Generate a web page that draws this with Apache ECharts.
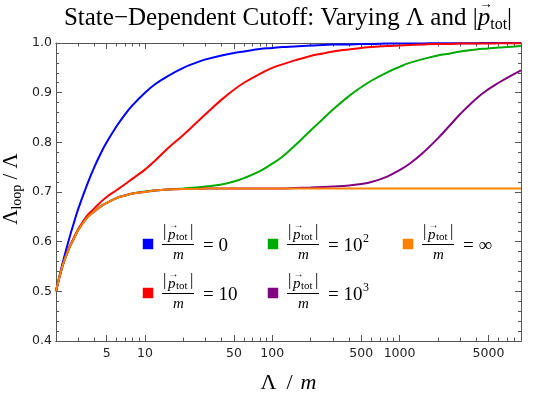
<!DOCTYPE html>
<html><head><meta charset="utf-8">
<script src="https://cdn.jsdelivr.net/npm/echarts@6/dist/echarts.min.js"></script>
<style>html,body{margin:0;padding:0;background:#fff}#c{width:540px;height:397px}</style>
</head><body><div id="c"></div>
<script>
// ---- data ----
const xs = [2,2.25,2.5,2.75,3,3.5,4,4.5,5,6,7,8,10,12,15,20,25,30,40,50,60,80,100,120,150,200,250,300,400,500,600,800,1000,1200,1500,2000,2500,3000,4000,5000,6000,7000,9000];
const yP0 = [0.500,0.556,0.600,0.636,0.667, 0.714,0.750,0.778,0.800, 0.833,0.857,0.875, 0.900,0.917,0.933, 0.950,0.960,0.967, 0.975,0.980,0.983, 0.988,0.990,0.992, 0.993,0.995,0.996, 0.997,0.997,0.998, 0.998,0.999,0.999, 0.999,0.999,0.9995, 0.9996,0.9997,0.9997, 0.9998,0.9998,0.9999, 0.9999];
const yP10 = [0.500,0.551,0.584,0.607,0.626, 0.652,0.667,0.680,0.690, 0.704,0.716,0.727, 0.745,0.763,0.787, 0.815,0.838,0.857, 0.886,0.906,0.920, 0.938,0.950,0.957, 0.965,0.974,0.979, 0.983,0.987,0.990, 0.992,0.994,0.995, 0.996,0.997,0.998, 0.998,0.999,0.999, 0.999,0.9993,0.9995, 0.9996];
const yP100 = [0.500,0.551,0.583,0.605,0.624, 0.648,0.661,0.671,0.678, 0.688,0.693,0.697, 0.701,0.703,0.705, 0.707,0.709,0.711, 0.715,0.721,0.728, 0.742,0.757,0.771, 0.793,0.824,0.847, 0.866,0.893,0.911, 0.924,0.941,0.952, 0.960,0.967,0.975, 0.979,0.983,0.987, 0.989,0.991,0.992, 0.994];
const yP1000 = [0.500,0.551,0.583,0.605,0.624, 0.648,0.661,0.671,0.678, 0.688,0.693,0.697, 0.700,0.703,0.705, 0.706,0.706,0.707, 0.707,0.707,0.707, 0.707,0.707,0.707, 0.708,0.709,0.710, 0.711,0.713,0.716, 0.720,0.731,0.744, 0.757,0.777,0.808, 0.835,0.857,0.888, 0.907,0.920,0.930, 0.945];
const yPinf = [0.500,0.551,0.583,0.605,0.624, 0.648,0.661,0.671,0.678, 0.688,0.693,0.697, 0.700,0.703,0.705, 0.706,0.706,0.707, 0.707,0.707,0.707, 0.707,0.707,0.707, 0.707,0.707,0.707, 0.707,0.707,0.707, 0.707,0.707,0.707, 0.707,0.707,0.707, 0.707,0.707,0.707, 0.707,0.707,0.707, 0.707];
const seriesNames = ['p = 0','p = 10','p = 10^2','p = 10^3','p = ∞'];
const legendBase = ['0','10','10','10','\u221E'];
const legendSup = ['','','2','3',''];
const colors = ['#0000ff','#ff0000','#00aa00','#800080','#ff8000'];
const xLabelVals = [5,10,50,100,500,1000,5000];
const xMinorVals = [2,3,4,6,7,8,9,20,30,40,60,70,80,90,200,300,400,600,700,800,900,2000,3000,4000,6000,7000,8000];
const titleMain = 'State\u2212Dependent Cutoff: Varying \u039B and ';
const yTitle = ['\u039B','loop',' / \u039B'];
const xTitle = ['\u039B','/','m'];

// ---- layout helpers ----
const ys = [yP0, yP10, yP100, yP1000, yPinf];
const frame = '#555';
const SERIF = '"Liberation Serif", "Times New Roman", serif';
const mctx = document.createElement('canvas').getContext('2d');
function tw(t, size, italic){ mctx.font = (italic?'italic ':'') + size + 'px ' + SERIF; return mctx.measureText(t).width; }
function txt(x, y, t, size, opt){
  opt = opt || {};
  return {type:'text', x:x, y:y, silent:true, z:100, style:{text:t, fill:opt.color||'#000',
    font:(opt.italic?'italic ':'') + size + 'px ' + SERIF, align:opt.align||'left', verticalAlign:'middle'}};
}

const chart = echarts.init(document.getElementById('c'), null, {renderer:'canvas'});

function xAxisDef(position, tickVals, len, showLabels){
  return {type:'log', logBase:10, min:2, max:9000, position:position,
    axisLine:{show:true, onZero:false, lineStyle:{color:frame, width:1}},
    axisTick:{show:true, inside:true, length:len, customValues:tickVals, lineStyle:{color:frame, width:1}},
    axisLabel:{show:showLabels, customValues: showLabels ? xLabelVals : tickVals, margin:6, color:'#222',
      fontFamily:'DejaVu Sans', fontSize:12.5, formatter:function(v){return String(Math.round(v));}},
    splitLine:{show:false}, minorTick:{show:false}};
}
function yAxisDef(position, showLabels){
  return {type:'value', min:0.4, max:1.0, interval:0.1, position:position,
    axisLine:{show:true, onZero:false, lineStyle:{color:frame, width:1}},
    axisTick:{show:true, inside:true, length:6, lineStyle:{color:frame, width:1}},
    minorTick:{show:true, splitNumber:5, length:3, lineStyle:{color:frame, width:1}},
    axisLabel:{show:showLabels, margin:4, color:'#222', fontFamily:'DejaVu Sans', fontSize:12.5,
      formatter:function(v){return v.toFixed(1);}},
    splitLine:{show:false}};
}

const graphics = [];
// title
(function(){
  const fs = 25, sub = 16;
  const wMain = tw(titleMain, fs), wBar = tw('|', fs), wP = tw('p', fs, true), wTot = tw('tot', sub);
  const W = wMain + wBar + wP + wTot + wBar;
  let x = 288 - W/2; const yMid = 18;
  graphics.push(txt(x, yMid, titleMain, fs)); x += wMain;
  graphics.push(txt(x, yMid, '|', fs)); x += wBar;
  graphics.push(txt(x, yMid, 'p', fs, {italic:true}));
  graphics.push(txt(x + wP/2 + 2, 4, '\u2192', 14, {align:'center'}));
  x += wP;
  graphics.push(txt(x, 25, 'tot', sub)); x += wTot;
  graphics.push(txt(x, yMid, '|', fs));
})();
// y axis title (rotated)
(function(){
  const fs = 21, sub = 14;
  const w0 = tw(yTitle[0], fs), w1 = tw(yTitle[1], sub), w2 = tw(yTitle[2], fs);
  const W = w0 + w1 + w2;
  let x = -W/2;
  const kids = [];
  kids.push(txt(x, 0, yTitle[0], fs)); x += w0;
  kids.push(txt(x, 6, yTitle[1], sub)); x += w1;
  kids.push(txt(x, 0, yTitle[2], fs));
  graphics.push({type:'group', x:11, y:189, rotation:Math.PI/2, children:kids});
})();
// x axis title
graphics.push(txt(268.5, 383, xTitle[0], 22, {align:'center'}));
graphics.push(txt(289.5, 383, xTitle[1], 22, {align:'center'}));
graphics.push(txt(308.5, 383, xTitle[2], 22, {align:'center', italic:true}));
// legend
const legendPos = [[148,244],[148,293],[273,244],[273,293],[408,244]];
legendBase.forEach(function(v, i){
  const cx = legendPos[i][0], cy = legendPos[i][1];
  graphics.push({type:'rect', shape:{x:cx-5, y:cy-5, width:10, height:10}, style:{fill:colors[i], stroke:colors[i], lineWidth:0.5}, silent:true, z:100});
  const fb = 17;
  graphics.push(txt(cx+15, cy-12, '|', fb));
  graphics.push(txt(cx+20, cy-8.5, 'p', 15, {italic:true}));
  graphics.push(txt(cx+25.5, cy-18.5, '\u2192', 10, {align:'center'}));
  graphics.push(txt(cx+28, cy-7, 'tot', 11));
  graphics.push(txt(cx+42, cy-12, '|', fb));
  graphics.push({type:'line', shape:{x1:cx+14, y1:cy+0.5, x2:cx+46, y2:cy+0.5}, style:{stroke:'#000', lineWidth:1}, silent:true, z:100});
  graphics.push(txt(cx+30.5, cy+11, 'm', 15, {italic:true, align:'center'}));
  const main = '= ' + v;
  graphics.push(txt(cx+55, cy+2, main, 19));
  if (legendSup[i]) graphics.push(txt(cx+55+tw(main,19)+0.5, cy-5, legendSup[i], 12));
});

chart.setOption({
  animation:false,
  backgroundColor:'#fff',
  grid:{left:56, right:19, top:43, bottom:56, containLabel:false},
  xAxis:[xAxisDef('bottom', xLabelVals, 6, true), xAxisDef('bottom', xMinorVals, 3.5, false),
         xAxisDef('top', xLabelVals, 6, false), xAxisDef('top', xMinorVals, 3.5, false)],
  yAxis:[yAxisDef('left', true), yAxisDef('right', false)],
  series: ys.map(function(arr, i){
    return {type:'line', name:seriesNames[i], xAxisIndex:0, yAxisIndex:0,
      data: xs.map(function(x, j){ return [x, arr[j]]; }),
      showSymbol:false, symbol:'none', smooth:0.4, sampling:null,
      lineStyle:{width:2, color:colors[i]}, itemStyle:{color:colors[i]}, z:2+i, silent:true};
  }),
  graphic: graphics
});
</script></body></html>
